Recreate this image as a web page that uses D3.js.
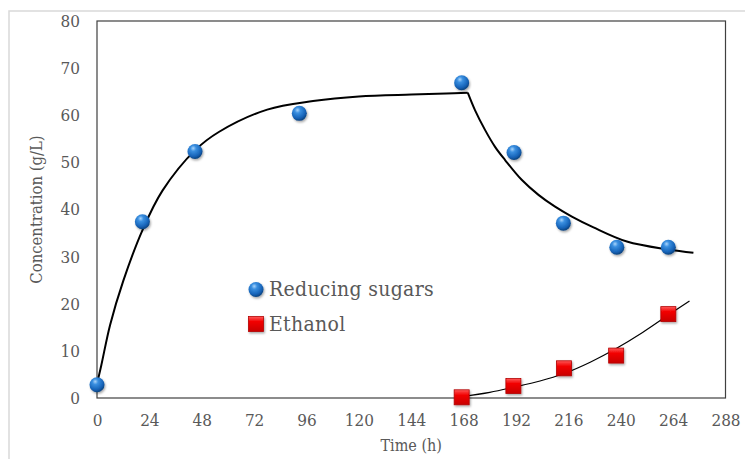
<!DOCTYPE html>
<html>
<head>
<meta charset="utf-8">
<script src="https://cdn.jsdelivr.net/npm/d3@7"></script>
<style>
  html, body { margin: 0; padding: 0; background: #fff; }
  svg { display: block; }
  text { font-family: "DejaVu Serif Condensed", "DejaVu Serif", serif; fill: #595959; }
</style>
</head>
<body>
<svg id="chart" width="745" height="459"></svg>
<script>
// Measured reducing sugars (g/L) over time (h)
const sugarTime  = [0, 20.8, 44.9, 92.7, 167.1, 191.1, 213.7, 238.2, 261.8];
const sugarConc  = [2.8, 37.4, 52.3, 60.4, 66.9, 52.1, 37.1, 32.0, 32.0];

// Measured ethanol (g/L) over time (h)
const ethTime = [167.1, 190.8, 214.0, 237.9, 261.8];
const ethConc = [0.15, 2.55, 6.3, 9.0, 17.8];

// Model fit for reducing sugars: hydrolysis phase, then fermentation phase
const sugarFitRiseTime = [0, 2, 6, 12, 21, 30, 45, 56, 78, 99, 120, 144, 160, 169.9];
const sugarFitRiseConc = [3.0, 7.0, 15.5, 24.8, 35.8, 44.0, 52.6, 56.5, 61.2, 63.0, 64.0, 64.4, 64.6, 64.8];
const sugarFitFallTime = [169.9, 173.2, 177.8, 182.4, 187, 194.6, 202.3, 209.9, 217.6, 227.5, 242.8, 261.8, 273.3];
const sugarFitFallConc = [64.8, 61.1, 56.9, 53.3, 50.5, 46.3, 43.1, 40.6, 38.5, 36.2, 33.2, 31.5, 30.8];

// Model fit for ethanol
const ethFitTime = [167.1, 180, 190.8, 203, 214.0, 226, 237.9, 250, 261.8, 271.5];
const ethFitConc = [0.3, 1.2, 2.27, 3.6, 5.2, 7.6, 10.5, 13.9, 17.6, 20.6];

const xTicks = [0, 24, 48, 72, 96, 120, 144, 168, 192, 216, 240, 264, 288];
const yTicks = [0, 10, 20, 30, 40, 50, 60, 70, 80];

const svg = d3.select("#chart");
const W = 745, H = 459;
const margin = { left: 97, right: W - 725.5, top: 21, bottom: H - 398 };

const x = d3.scaleLinear().domain([0, 288]).range([margin.left, W - margin.right]);
const y = d3.scaleLinear().domain([0, 80]).range([H - margin.bottom, margin.top]);

// gradients and shadow
const defs = svg.append("defs");
const sphere = defs.append("radialGradient").attr("id", "sphere")
  .attr("cx", "40%").attr("cy", "32%").attr("r", "68%").attr("fx", "38%").attr("fy", "28%");
sphere.append("stop").attr("offset", "0%").attr("stop-color", "#a9d4fb");
sphere.append("stop").attr("offset", "28%").attr("stop-color", "#3a8fe0");
sphere.append("stop").attr("offset", "75%").attr("stop-color", "#1663b8");
sphere.append("stop").attr("offset", "100%").attr("stop-color", "#0c437f");

const redG = defs.append("linearGradient").attr("id", "redsq").attr("x1", 0).attr("y1", 0).attr("x2", 0).attr("y2", 1);
redG.append("stop").attr("offset", "0%").attr("stop-color", "#ff5a5a");
redG.append("stop").attr("offset", "35%").attr("stop-color", "#f20000");
redG.append("stop").attr("offset", "100%").attr("stop-color", "#c80000");

const sh = defs.append("filter").attr("id", "shadow").attr("x", "-50%").attr("y", "-50%").attr("width", "200%").attr("height", "200%");
sh.append("feDropShadow").attr("dx", 1).attr("dy", 1.5).attr("stdDeviation", 1.2)
  .attr("flood-color", "#000").attr("flood-opacity", 0.35);

// outer chart frame
svg.append("rect").attr("x", 9).attr("y", 11).attr("width", 760).attr("height", 470)
  .attr("fill", "#fff").attr("stroke", "#d9d9d9").attr("stroke-width", 1.5);

// plot area frame
svg.append("rect")
  .attr("x", x(0)).attr("y", y(80))
  .attr("width", x(288) - x(0)).attr("height", y(0) - y(80))
  .attr("fill", "none").attr("stroke", "#404040").attr("stroke-width", 1.2);

// axes (labels only)
const xAxis = svg.append("g").attr("transform", `translate(0,${y(0)})`)
  .call(d3.axisBottom(x).tickValues(xTicks).tickSize(0).tickPadding(16));
const yAxis = svg.append("g").attr("transform", `translate(${x(0)},0)`)
  .call(d3.axisLeft(y).tickValues(yTicks).tickSize(0).tickPadding(17));
[xAxis, yAxis].forEach(g => {
  g.select(".domain").remove();
  g.selectAll("text").attr("font-size", 17).attr("fill", "#595959")
    .attr("font-family", "'DejaVu Serif Condensed', 'DejaVu Serif', serif");
});

// axis titles
svg.append("text").attr("x", (x(0) + x(288)) / 2).attr("y", 451)
  .attr("text-anchor", "middle").attr("font-size", 16).text("Time (h)");
svg.append("text")
  .attr("transform", `translate(42,${(y(0) + y(80)) / 2}) rotate(-90)`)
  .attr("text-anchor", "middle").attr("font-size", 16.5).text("Concentration (g/L)");

// fit lines
const line = d3.line().x(d => x(d[0])).y(d => y(d[1])).curve(d3.curveCatmullRom.alpha(0.5));
const fits = svg.append("g").attr("fill", "none").attr("stroke", "#000");
fits.append("path").datum(d3.zip(sugarFitRiseTime, sugarFitRiseConc))
  .attr("d", line).attr("stroke-width", 2);
fits.append("path").datum(d3.zip(sugarFitFallTime, sugarFitFallConc))
  .attr("d", line).attr("stroke-width", 2);
fits.append("path").datum(d3.zip(ethFitTime, ethFitConc))
  .attr("d", line).attr("stroke-width", 1.2);

// markers
const R = 7.5, S = 15;
svg.append("g").selectAll("rect").data(d3.zip(ethTime, ethConc)).join("rect")
  .attr("x", d => x(d[0]) - S / 2).attr("y", d => y(d[1]) - S / 2)
  .attr("width", S).attr("height", S)
  .attr("fill", "url(#redsq)").attr("stroke", "#b30000").attr("stroke-width", 0.8)
  .attr("filter", "url(#shadow)");
svg.append("g").selectAll("circle").data(d3.zip(sugarTime, sugarConc)).join("circle")
  .attr("cx", d => x(d[0])).attr("cy", d => y(d[1])).attr("r", R)
  .attr("fill", "url(#sphere)").attr("filter", "url(#shadow)");

// legend
const leg = svg.append("g");
leg.append("circle").attr("cx", 256).attr("cy", 289.5).attr("r", R)
  .attr("fill", "url(#sphere)").attr("filter", "url(#shadow)");
leg.append("text").attr("x", 269).attr("y", 296).attr("font-size", 21)
  .attr("letter-spacing", 0.3).text("Reducing sugars");
leg.append("rect").attr("x", 256 - S / 2).attr("y", 324 - S / 2).attr("width", S).attr("height", S)
  .attr("fill", "url(#redsq)").attr("stroke", "#b30000").attr("stroke-width", 0.8)
  .attr("filter", "url(#shadow)");
leg.append("text").attr("x", 269).attr("y", 331).attr("font-size", 21)
  .attr("letter-spacing", 0.3).text("Ethanol");
</script>
</body>
</html>
